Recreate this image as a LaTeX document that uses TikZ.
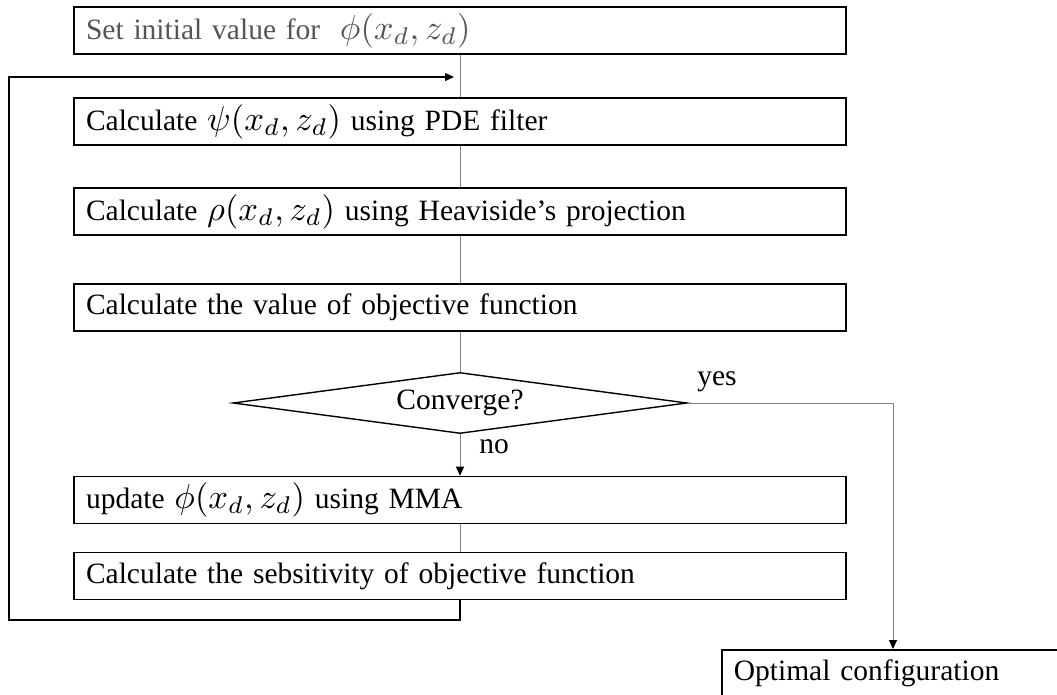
\documentclass[tikz,border=0pt]{standalone}
\usepackage{graphicx}
\usepackage[no-math]{fontspec}
\setmainfont{Liberation Serif}
\usetikzlibrary{arrows.meta,shapes.geometric}

\definecolor{linegray}{RGB}{128,128,128}
\definecolor{textgray}{RGB}{85,85,85}

% larger math inside the step boxes (set at 10pt, then scaled)
\newcommand{\mth}[1]{\scalebox{3.45}{\fontsize{10}{12}\selectfont$#1$}}

\begin{document}
\begin{tikzpicture}[x=1pt,y=-1pt,
  stepbox/.style={draw=black, line width=1.6pt, rectangle,
    minimum width=772pt, minimum height=47pt,
    text width=748pt, inner xsep=12pt, inner ysep=0pt, align=left,
    font=\fontsize{29.5}{33}\selectfont},
  decbox/.style={draw=black, line width=1.4pt, diamond, aspect=7.44,
    minimum width=454pt, minimum height=61pt, inner sep=0pt,
    font=\fontsize{29.5}{33}\selectfont},
  lbl/.style={inner sep=0pt, font=\fontsize{29.5}{33}\selectfont},
  flow/.style={draw=linegray, line width=1pt},
  flowarrow/.style={flow, -{Triangle[length=9pt,width=8pt,color=black]}},
  loopline/.style={draw=black, line width=1.4pt, -{Triangle[length=9pt,width=8pt]}}
]
\useasboundingbox (0,0) rectangle (1057,695);

% process steps
\node[stepbox, text=textgray] (b1) at (460,30.5)
  {Set initial value for\ \ \mth{\phi(x_d,z_d)}};
\node[stepbox] (b2) at (460,121.5)
  {Calculate \mth{\psi(x_d,z_d)} using PDE filter};
\node[stepbox] (b3) at (460,211.5)
  {Calculate \mth{\rho(x_d,z_d)} using Heaviside’s projection};
\node[stepbox] (b4) at (460,307.5)
  {Calculate the value of objective function};
\node[decbox] (dec) at (460,403) {Converge?};
\node[stepbox] (b5) at (460,500)
  {update \mth{\phi(x_d,z_d)} using MMA};
\node[stepbox] (b6) at (460,576)
  {Calculate the sebsitivity of objective function};
\node[stepbox, anchor=north west, minimum width=420pt, text width=396pt]
  (opt) at (721,649) {Optimal configuration};

% branch labels
\node[lbl] (no) at (494,447) {no};
\node[lbl] (yes) at (717,382) {yes};

% main flow
\draw[flow] (b1.south) -- (b2.north);
\draw[flow] (b2.south) -- (b3.north);
\draw[flow] (b3.south) -- (b4.north);
\draw[flow] (b4.south) -- (dec.north);
\draw[flowarrow] (dec.south) -- (b5.north);
\draw[flow] (b5.south) -- (b6.north);

% iteration loop back to the filter step
\coordinate (loopL) at (9,620);
\coordinate (loopT) at (9,77);
\coordinate (loopEnd) at (454,77);
\draw[loopline] (b6.south) |- (loopL) -- (loopT) -- (loopEnd);

% converged branch
\coordinate (yesC) at (893,403);
\draw[flowarrow] (dec.east) -- (yesC) -- (yesC |- opt.north);
\end{tikzpicture}
\end{document}
